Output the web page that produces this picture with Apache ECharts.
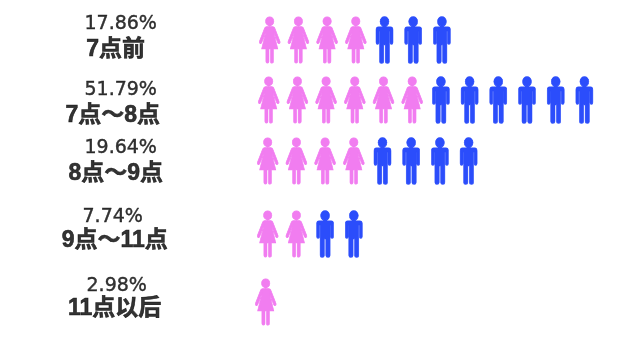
<!DOCTYPE html>
<html><head><meta charset="utf-8">
<style>html,body{margin:0;padding:0;background:#fff}#c{width:640px;height:353px}</style>
<script src="https://cdn.jsdelivr.net/npm/echarts@6/dist/echarts.min.js"></script>
</head><body><div id="c"></div>
<script>
const categories = ['7点前','7点～8点','8点～9点','9点～11点','11点以后'];
const shares = ['17.86%','51.79%','19.64%','7.74%','2.98%'];
const pinkCounts = [4,6,4,2,1];
const blueCounts = [3,6,4,2,0];

// layout only
const rowShiftX = [1,0,-1,-1,-3];
const rowShiftY = [0,-5.5,-10,-2.5,0];
const shareCentre = [121,121,121,113,117];
const nameCentre = [116,113,116,115,115];
const shareY = [24,90,148,217,286];
const nameY = [50,116,174,241,309];
const AX0 = 240, STEP = 28.7, ROW0 = 40, ROWSTEP = 65.5;

const MAN = 'path://M8.5 0A4.5 4.5 0 1 1 8.5 9A4.5 4.5 0 1 1 8.5 0ZM2.5 10H14.5Q17 10 17 12.5V25Q17 26.5 15.5 26.5Q14 26.5 14 25V14H13.5V43.5Q13.5 45 11.5 45Q9.2 45 9.2 43.5V27H7.8V43.5Q7.8 45 5.5 45Q3.5 45 3.5 43.5V14H3V25Q3 26.5 1.5 26.5Q0 26.5 0 25V12.5Q0 10 2.5 10Z';
const WOMAN = 'path://M10.5 0A4.2 4.2 0 1 1 10.5 8.4A4.2 4.2 0 1 1 10.5 0ZM7.5 9.6H13.5Q15 9.6 15.6 11L20.8 24Q21.3 25.3 20 25.8Q19 26 18.4 25L14.6 15.5L18.5 31H14.3V43.5Q14.3 45 12.8 45Q11.2 45 11.2 43.5V31H9.8V43.5Q9.8 45 8.2 45Q6.7 45 6.7 43.5V31H2.5L6.4 15.5L2.6 25Q2 26 1 25.8Q-0.3 25.3 0.2 24L5.4 11Q6 9.6 7.5 9.6Z';

const pink = [], blue = [];
categories.forEach((c, r) => {
  for (let i = 0; i < pinkCounts[r] + blueCounts[r]; i++) {
    const isPink = i < pinkCounts[r];
    (isPink ? pink : blue).push({
      value: [i, r],
      symbolOffset: [rowShiftX[r], rowShiftY[r]]
    });
  }
});
function labelSeries(texts, centres, ys, font) {
  return {
    type: 'scatter', silent: true, symbolSize: 1, itemStyle: {color: 'rgba(0,0,0,0)'}, z: 5,
    data: texts.map((t, r) => ({
      value: [-1, r],
      label: {
        show: true, position: 'inside', formatter: t, color: '#000',
        textBorderWidth: font.stroke, textBorderColor: '#000',
        fontFamily: font.family, fontSize: font.size, fontWeight: font.weight,
        align: 'center', verticalAlign: 'middle',
        offset: [centres[r] - (AX0 + 0.3), ys[r] - (ROW0 + ROWSTEP * r)]
      }
    }))
  };
}
const chart = echarts.init(document.getElementById('c'), null, {renderer: 'canvas'});
chart.setOption({
  animation: false,
  backgroundColor: '#fff',
  grid: {left: AX0, width: STEP * 13, top: ROW0 - ROWSTEP / 2, height: ROWSTEP * 5},
  xAxis: {type: 'value', min: -1, max: 12, show: false},
  yAxis: {type: 'category', data: categories, inverse: true, show: false},
  series: [
    {type: 'scatter', name: '女', symbol: WOMAN, symbolSize: [21, 46], symbolKeepAspect: false,
     itemStyle: {color: '#f17df0', opacity: 1, borderColor: '#f17df0', borderWidth: 0.8}, data: pink},
    {type: 'scatter', name: '男', symbol: MAN, symbolSize: [17, 46], symbolKeepAspect: false,
     itemStyle: {color: '#2b4dfb', opacity: 1, borderColor: '#2b4dfb', borderWidth: 0.8}, data: blue},
    labelSeries(shares, shareCentre, shareY, {size: 19, weight: 'normal', stroke: 0.4, family: "'DejaVu Sans',sans-serif"}),
    labelSeries(categories, nameCentre, nameY, {size: 23, weight: 'bold', stroke: 0.6, family: "'Liberation Sans','Noto Sans CJK SC',sans-serif"})
  ]
});
</script></body></html>
